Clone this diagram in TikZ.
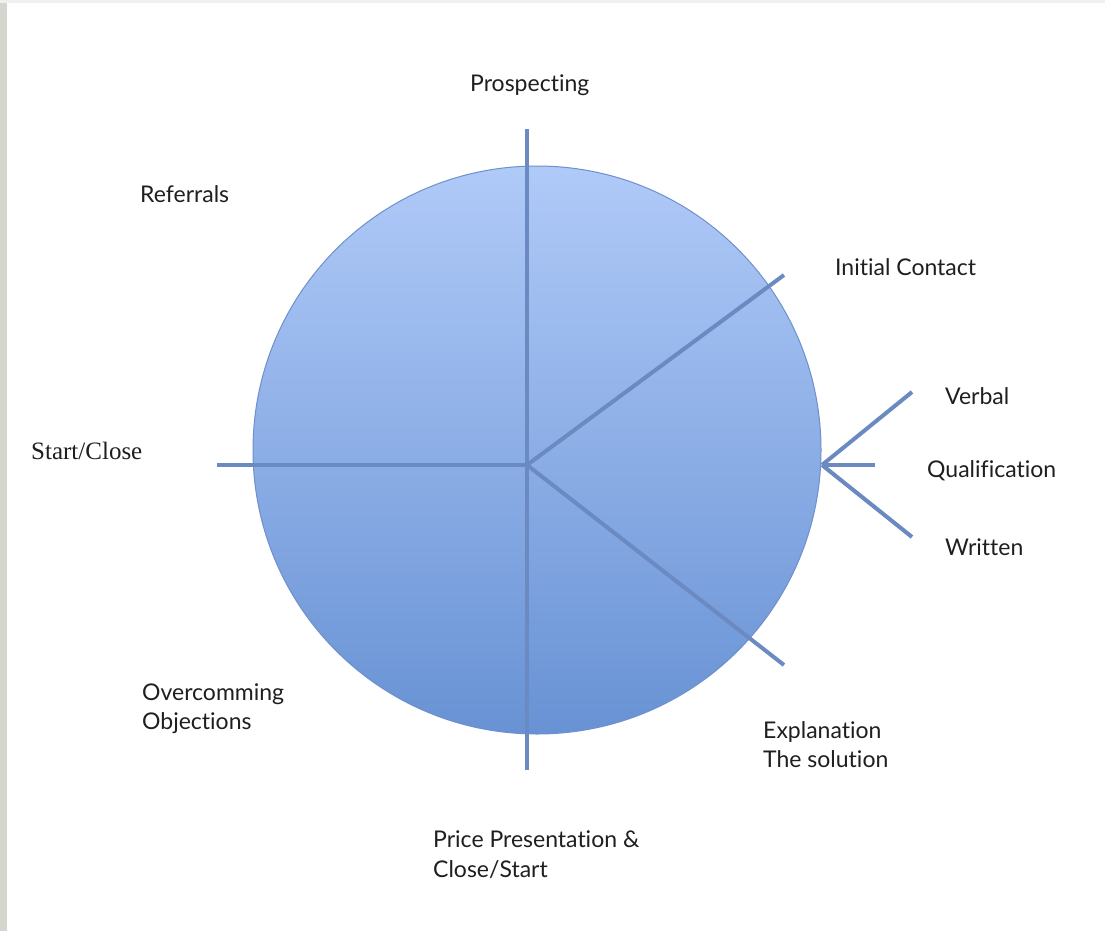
\documentclass[tikz,border=0pt]{standalone}
\usepackage{fontspec}
\setmainfont[Ligatures={NoCommon}]{Lato}
\newfontfamily\serifface{Liberation Serif}
\definecolor{circtop}{RGB}{176,202,248}
\definecolor{circbot}{RGB}{104,146,212}
\definecolor{circedge}{RGB}{110,144,204}
\definecolor{spoke}{RGB}{108,138,194}
\definecolor{strip}{RGB}{212,215,206}
\tikzset{
  lbl/.style={anchor=base west, inner sep=0pt, font=\fontsize{23}{29}\selectfont, text=black!88},
  spokeline/.style={draw=spoke, line width=4pt, line cap=butt},
}
\begin{document}
\begin{tikzpicture}[x=1pt,y=-1pt]
\useasboundingbox (0,0) rectangle (1105,931);
\fill[white] (0,0) rectangle (1105,931);
\fill[strip] (0,0) rectangle (7,931);
\fill[black!6] (0,0) rectangle (1105,3);
% circle
\shade[top color=circtop, bottom color=circbot, draw=circedge, line width=1pt]
  (537,450) circle[radius=284];
% coordinates
\coordinate (hub) at (527,465);
\coordinate (top) at (527,129);
\coordinate (bot) at (527,770);
\coordinate (left) at (217,465);
\coordinate (ic) at (784,275);
\coordinate (ex) at (784,665);
\coordinate (apex) at (822,465);
\coordinate (vb) at (912,392);
\coordinate (ql) at (875,465);
\coordinate (wr) at (912,537);
% spokes
\draw[spokeline] (top) -- (bot);
\draw[spokeline] (left) -- (hub);
\draw[spokeline] (hub) -- (ic);
\draw[spokeline] (hub) -- (ex);
\draw[spokeline] (apex) -- (vb);
\draw[spokeline] (apex) -- (ql);
\draw[spokeline] (apex) -- (wr);
% labels
\node[lbl] (prosp) at (470,92) {Prospecting};
\node[lbl] (refer) at (140,202) {Referrals};
\node[lbl] (init) at (835,275) {Initial Contact};
\node[lbl] (verbal) at (945,404) {Verbal};
\node[lbl] (qual) at (927,477) {Qualification};
\node[lbl] (writ) at (945,555) {Written};
\node[lbl, font=\serifface\fontsize{25}{29}\selectfont] (start) at (31,459) {Start/Close};
\node[lbl] (obj1) at (142,700) {Overcomming};
\node[lbl] (obj2) at (142,729) {Objections};
\node[lbl] (expl1) at (763,738) {Explanation};
\node[lbl] (expl2) at (763,767) {The solution};
\node[lbl] (price1) at (433,847) {Price Presentation \&};
\node[lbl] (price2) at (433,877) {Close/Start};
\end{tikzpicture}
\end{document}
